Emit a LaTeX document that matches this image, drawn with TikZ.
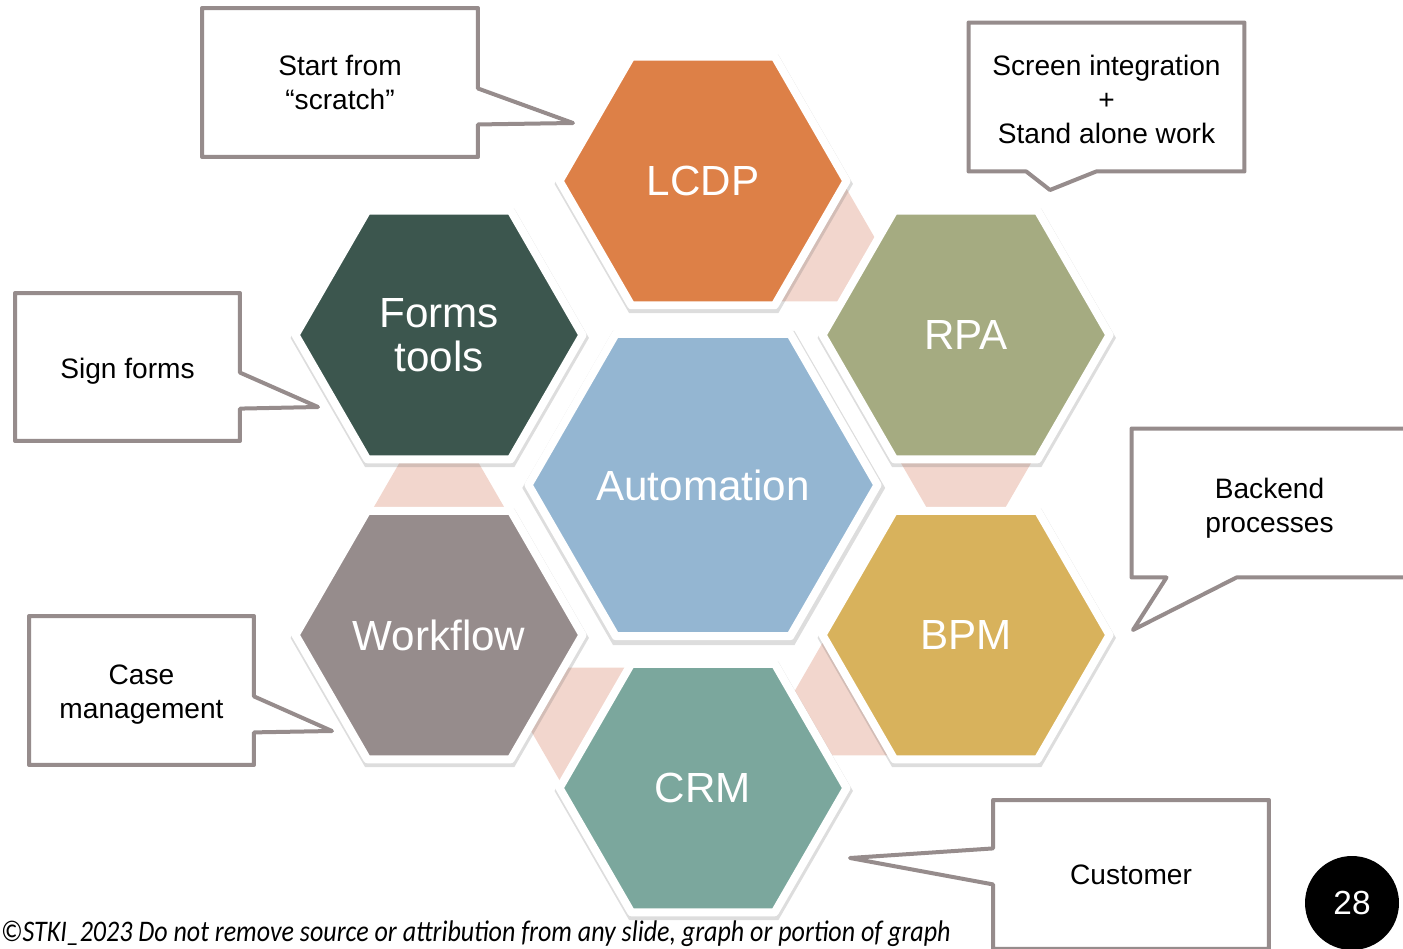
\documentclass[tikz,border=0pt]{standalone}
\usepackage{fontspec}
\setmainfont{Liberation Sans}
\newfontfamily\notefont{Carlito}
\usetikzlibrary{shapes.geometric,shapes.callouts,shadows,calc,backgrounds}

\definecolor{lcdpcol}{HTML}{DD8047}
\definecolor{formscol}{HTML}{3C564E}
\definecolor{rpacol}{HTML}{A5AB81}
\definecolor{autocol}{HTML}{94B6D2}
\definecolor{wflowcol}{HTML}{968C8C}
\definecolor{bpmcol}{HTML}{D8B25C}
\definecolor{crmcol}{HTML}{7BA79D}
\definecolor{bandcol}{HTML}{F2D6CD}
\definecolor{calloutcol}{HTML}{968C8C}

\begin{document}
\begin{tikzpicture}[x=0.02cm, y=0.02cm,
    hexa/.style={regular polygon, regular polygon sides=6, draw=white, line width=0.16cm,
      line join=round, inner sep=0pt, minimum size=5.74cm, text=white, align=center,
      font=\fontsize{24}{25}\selectfont,
      drop shadow={shadow xshift=0.4pt, shadow yshift=-1.6pt, shadow scale=1.04, opacity=0.22, fill=black!60}},
    callbox/.style={rectangle callout, draw=calloutcol, line width=0.08cm, line join=round,
      fill=white, inner sep=0pt, minimum width=5.52cm, minimum height=2.98cm, align=center,
      font=\fontsize{16}{19.3}\selectfont, callout pointer width=0.72cm},
    band/.style={fill=bandcol}]
    \useasboundingbox (0,0) rectangle (1403,948);
    \clip (0,0) rectangle (1403,948);

    % Hexagon cluster
    \node (auto) at (703,463) [hexa, fill=autocol, minimum size=6.98cm] {Automation};
    \node (lcdp) at (703,767) [hexa, fill=lcdpcol] {LCDP};
    \node (forms) at (439,613) [hexa, fill=formscol] {Forms\\tools};
    \node (rpa) at (966,613) [hexa, fill=rpacol] {RPA};
    \node (wflow) at (439,313) [hexa, fill=wflowcol] {Workflow};
    \node (bpm) at (966,313) [hexa, fill=bpmcol] {BPM};
    \node (crm) at (703,160) [hexa, fill=crmcol] {CRM};

    % Pink wedges behind the ring
    \begin{scope}[on background layer]
        \foreach \h/\a in {lcdp/0, rpa/-60, bpm/-120, crm/180, wflow/120}
            \fill[band] ($(\h)+(\a:139)$) -- ($(\h)+(\a-60:139)$) -- ($(\h)+(\a:139)+(\a-60:139)$) -- cycle;
    \end{scope}

    % Callouts
    \coordinate (tipscratch) at (573,825);
    \coordinate (tipscreen) at (1050,758);
    \coordinate (tipsign) at (318,541);
    \coordinate (tipback) at (1133,318);
    \coordinate (tipcase) at (332,217);
    \coordinate (tipcust) at (850,90);

    \node (scratch) at (340,865.5) [callbox, callout absolute pointer={(tipscratch)}] {Start from\\“scratch”};
    \node (screen) at (1106.5,851) [callbox, callout absolute pointer={(tipscreen)}, callout pointer width=1.4cm] {\rule{0pt}{14pt}Screen integration\\+\\Stand alone work};
    \node (sign) at (127.5,581) [callbox, minimum width=4.5cm, minimum height=2.96cm, callout absolute pointer={(tipsign)}] {\rule{0pt}{16.3pt}Sign forms};
    \node (backend) at (1269.5,445) [callbox, callout absolute pointer={(tipback)}, callout pointer width=1.4cm] {\rule{0pt}{17.4pt}Backend\\processes};
    \node (case) at (141.5,257.5) [callbox, minimum width=4.5cm, callout absolute pointer={(tipcase)}] {\rule{0pt}{16.3pt}Case\\management};
    \node (cust) at (1131,73.5) [callbox, callout absolute pointer={(tipcust)}] {Customer};

    % Footer and page number
    \node (note) at (951,7) [anchor=base east, inner sep=0pt, font=\notefont\itshape\fontsize{17}{17}\selectfont]
        {\resizebox{19.0cm}{\height}{©STKI\_2023 Do not remove source or attribution from any slide, graph or portion of graph}};
    \node (page) at (1352,45) [circle, fill=black, minimum size=1.88cm, inner sep=0pt, text=white,
        font=\fontsize{19}{19}\selectfont] {28};
\end{tikzpicture}
\end{document}
